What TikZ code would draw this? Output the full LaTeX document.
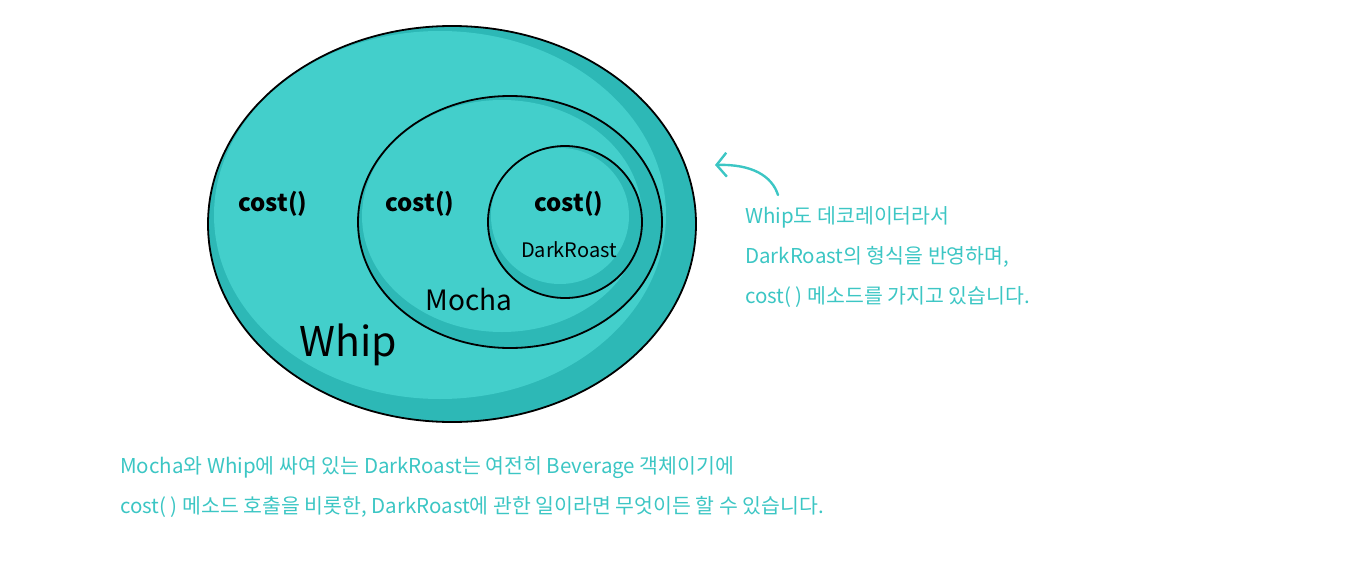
\documentclass[tikz,border=0pt]{standalone}
\usepackage{fontspec}
\setmainfont{Noto Sans CJK KR}
\newfontfamily\kr{Noto Sans CJK KR}
\usetikzlibrary{arrows.meta}
\definecolor{tealrim}{HTML}{2DB8B6}
\definecolor{tealfill}{HTML}{43CFCB}
\definecolor{tealtxt}{HTML}{3CC6C4}
\tikzset{
  ring/.style={draw=black, line width=1.8pt},
  lbl/.style={font=\kr\fontsize{24}{24}\selectfont, text=black, inner sep=0pt},
  note/.style={font=\kr\fontsize{20.5}{20.5}\selectfont, text=tealtxt, inner sep=0pt, anchor=west},
}
\begin{document}
\begin{tikzpicture}[x=1pt,y=-1pt]
\useasboundingbox (0,0) rectangle (1366,576);
% outer Whip
\fill[tealrim] (452,224) ellipse [x radius=244, y radius=198];
\fill[tealfill] (440,215) ellipse [x radius=226, y radius=184];
\draw[ring] (452,224) ellipse [x radius=244, y radius=198];
% Mocha
\fill[tealrim] (510,222) ellipse [x radius=152, y radius=126];
\fill[tealfill] (502,216) ellipse [x radius=140, y radius=116];
\draw[ring] (510,222) ellipse [x radius=152, y radius=126];
% DarkRoast
\fill[tealrim] (565,222) ellipse [x radius=77, y radius=76];
\fill[tealfill] (560,216) ellipse [x radius=69, y radius=68];
\draw[ring] (565,222) ellipse [x radius=77, y radius=76];
% labels
\node[lbl] (c1) at (273,204) {\bfseries cost()};
\node[lbl] (c2) at (420,204) {\bfseries cost()};
\node[lbl] (c3) at (569,204) {\bfseries cost()};
\node[lbl, font=\kr\fontsize{20}{20}\selectfont] (dr) at (569,250) {DarkRoast};
\node[lbl, font=\kr\fontsize{28}{28}\selectfont] (mo) at (469,300) {Mocha};
\node[lbl, font=\kr\fontsize{41}{41}\selectfont] (wh) at (348,345) {Whip};
% side note
\node[note] (n1) at (745,217) {Whip도 데코레이터라서};
\node[note] (n2) at (745,257) {DarkRoast의 형식을 반영하며,};
\node[note] (n3) at (745,297) {cost( ) 메소드를 가지고 있습니다.};
\coordinate (tip) at (715,165);
\draw[tealtxt, line width=2.4pt, line cap=round, -{Straight Barb[length=10pt,width=24pt]}]
  (778,195) .. controls (772,176) and (752,164) .. (tip);
% bottom note
\node[note] (b1) at (120,468) {Mocha와 Whip에 싸여 있는 DarkRoast는 여전히 Beverage 객체이기에};
\node[note] (b2) at (120,507) {cost( ) 메소드 호출을 비롯한, DarkRoast에 관한 일이라면 무엇이든 할 수 있습니다.};
\end{tikzpicture}
\end{document}
